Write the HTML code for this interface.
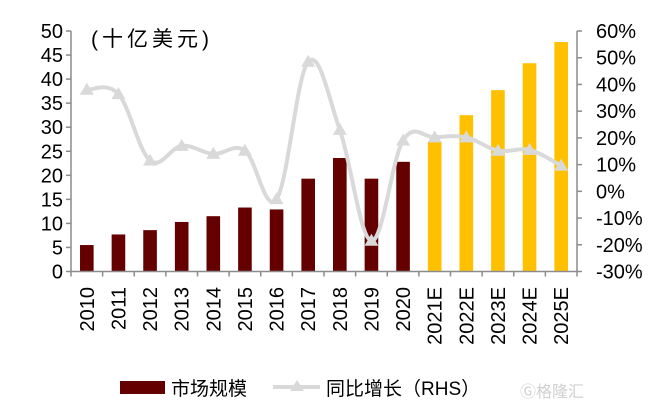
<!DOCTYPE html>
<html><head><meta charset="utf-8"><style>
body{margin:0;background:#fff;}
svg{display:block;font-family:"Liberation Sans","Noto Sans CJK SC",sans-serif;}
</style></head><body>
<svg id="c" width="670" height="407"></svg>
<script>
const categories=["2010","2011","2012","2013","2014","2015","2016","2017","2018","2019","2020","2021E","2022E","2023E","2024E","2025E"];
const marketSize=[5.5,7.7,8.6,10.3,11.5,13.3,12.9,19.3,23.6,19.3,22.8,27.0,32.5,37.7,43.3,47.7];
const growth=[38,36.4,11.5,17,14,15.2,-2.9,48.5,23,-18.5,19,20.2,20.2,15.2,15.5,9.6];
const forecast=[false,false,false,false,false,false,false,false,false,false,false,true,true,true,true,true];
const leftTicks=[0,5,10,15,20,25,30,35,40,45,50];
const rightTicks=[-30,-20,-10,0,10,20,30,40,50,60];
const NS="http://www.w3.org/2000/svg";
const svg=document.getElementById('c');
const x0=71,x1=577,yTop=31,yBot=271.5;
const band=(x1-x0)/categories.length;
const xc=i=>x0+band*(i+0.5);
const yL=v=>yBot-(v/50)*(yBot-yTop);
const yR=v=>yBot-((v+30)/90)*(yBot-yTop);
function el(t,a,p){const e=document.createElementNS(NS,t);for(const k in a)e.setAttribute(k,a[k]);(p||svg).appendChild(e);return e;}
marketSize.forEach((v,i)=>{
 const r=el('rect',{x:xc(i)-6.8,y:yL(v),width:13.6,height:yBot-yL(v),fill:forecast[i]?'#ffc000':'#640000'});
 
 
});
const ax=el('path',{d:`M${x0} ${yTop}V${yBot}H${x1}V${yTop}`,stroke:'#8c8c8c','stroke-width':1.5,fill:'none'});


leftTicks.forEach(v=>{
 el('line',{x1:x0-5,x2:x0,y1:yL(v),y2:yL(v),stroke:'#8c8c8c','stroke-width':1.5});
 const t=el('text',{x:63,y:yL(v)+7,'text-anchor':'end','font-size':20,fill:'#000'});t.textContent=v;
 
 
});
rightTicks.forEach(v=>{
 el('line',{x1:x1,x2:x1+5,y1:yR(v),y2:yR(v),stroke:'#8c8c8c','stroke-width':1.5});
 const t=el('text',{x:596,y:yR(v)+7,'font-size':20,fill:'#000'});t.textContent=v+'%';
 
 
});
for(let i=0;i<=categories.length;i++){el('line',{x1:x0+band*i,x2:x0+band*i,y1:yBot,y2:yBot+5,stroke:'#8c8c8c','stroke-width':1.5});}
categories.forEach((c,i)=>{
 const t=el('text',{transform:`translate(${xc(i)+7},287) rotate(-90)`,'text-anchor':'end','font-size':20,fill:'#000'});t.textContent=c;
 
 
});
const pts=growth.map((v,i)=>[xc(i),yR(v)]);
let d=`M${pts[0][0]} ${pts[0][1]}`;
for(let i=0;i<pts.length-1;i++){
 const p0=pts[Math.max(0,i-1)],p1=pts[i],p2=pts[i+1],p3=pts[Math.min(pts.length-1,i+2)];
 const t=0.36;
 d+=` C${p1[0]+(p2[0]-p0[0])*t/2} ${p1[1]+(p2[1]-p0[1])*t/2} ${p2[0]-(p3[0]-p1[0])*t/2} ${p2[1]-(p3[1]-p1[1])*t/2} ${p2[0]} ${p2[1]}`;
}
const ln=el('path',{d,stroke:'#d9d9d9','stroke-width':4,fill:'none'});


pts.forEach((p,i)=>{
 const m=el('polygon',{points:`${p[0]-7},${p[1]+5} ${p[0]+7},${p[1]+5} ${p[0]},${p[1]-7}`,fill:'#d9d9d9'});
 
 
});
</script>
<svg style="position:absolute;left:0;top:0" width="670" height="407">
<text x="91" y="46" font-size="21" letter-spacing="4" fill="#000">(十亿美元)</text>
<rect x="120" y="381" width="45" height="13" fill="#640000"/>
<text x="171" y="395" font-size="19" fill="#000">市场规模</text>
<line x1="273" y1="387" x2="320" y2="387" stroke="#d9d9d9" stroke-width="4"/>
<polygon points="290,391 304,391 297,380" fill="#d9d9d9"/>
<text x="326" y="395" font-size="19" fill="#000">同比增长（RHS）</text>
<text x="520" y="397" font-size="16" fill="#d0d0d0">Ⓖ格隆汇</text>
</svg>
</body></html>
